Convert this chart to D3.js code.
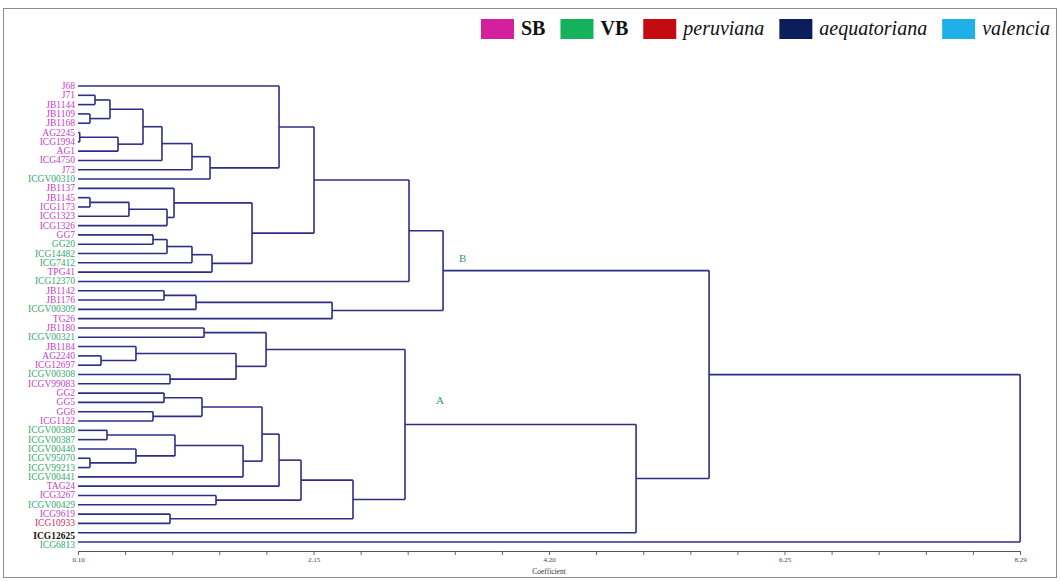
<!DOCTYPE html>
<html><head><meta charset="utf-8">
<script src="https://cdn.jsdelivr.net/npm/d3@7"></script>
<style>
html,body{margin:0;padding:0;background:#fff;}
svg{display:block;}
</style></head>
<body>
<svg id="chart" width="1060" height="581"></svg>
<script>
// ---------- DATA ----------
const leafNames = ["J68","J71","JB1144","JB1109","JB1168","AG2245","ICG1994","AG1","ICG4750","J73",
  "ICGV00310","JB1137","JB1145","ICG1173","ICG1323","ICG1326","GG7","GG20","ICG14482","ICG7412",
  "TPG41","ICG12370","JB1142","JB1176","ICGV00309","TG26","JB1180","ICGV00321","JB1184","AG2240",
  "ICG12697","ICGV00308","ICGV99083","GG2","GG5","GG6","ICG1122","ICGV00380","ICGV00387","ICGV00440",
  "ICGV95070","ICGV99213","ICGV00441","TAG24","ICG3267","ICGV00429","ICG9619","ICG10933","ICG12625","ICG6813"];
const leafGroups = ["SB","SB","SB","SB","SB","SB","SB","SB","SB","SB",
  "VB","SB","SB","SB","SB","SB","SB","VB","VB","VB",
  "SB","VB","SB","SB","VB","SB","SB","VB","SB","SB",
  "SB","VB","SB","SB","SB","SB","SB","VB","VB","VB",
  "VB","VB","VB","SB","SB","VB","SB","peruviana","aequatoriana","VB"];
// merges: negative = leaf number (1-based), positive = earlier merge number (1-based)
const mergePairs = [
  [-2,-3],[-4,-5],[1,2],[-6,-7],[4,-8],[3,5],[6,-9],[7,-10],[8,-11],[-1,9],
  [-13,-14],[11,-15],[12,-16],[-12,13],[-17,-18],[15,-19],[16,-20],[17,-21],[14,18],[10,19],
  [20,-22],[-23,-24],[22,-25],[23,-26],[21,24],[-27,-28],[-30,-31],[-29,27],[-32,-33],[28,29],
  [26,30],[-34,-35],[-36,-37],[32,33],[-38,-39],[-41,-42],[-40,36],[35,37],[38,-43],[34,39],
  [40,-44],[-45,-46],[41,42],[-47,-48],[43,44],[31,45],[46,-49],[25,47],[48,-50]];
const mergeHeights = [
  0.248,0.204,0.378,0.115,0.448,0.665,0.830,1.091,1.248,1.848,
  0.204,0.543,0.874,0.935,0.752,0.874,1.091,1.265,1.613,2.152,
  2.978,0.848,1.126,2.309,3.274,1.196,0.300,0.604,0.900,1.474,
  1.735,0.848,0.752,1.178,0.352,0.204,0.604,0.943,1.535,1.700,
  1.848,1.300,2.039,0.900,2.491,2.943,4.952,5.587,8.291];
const clusterLabels = [{merge:46, text:"A"},{merge:25, text:"B"}];
const axisMin = 0.10, axisMax = 8.29;
const tickLabels = ["0.10","2.15","4.20","6.25","8.29"];
const legendItems = [
  {key:"SB", label:"SB", bold:true},
  {key:"VB", label:"VB", bold:true},
  {key:"peruviana", label:"peruviana", bold:false},
  {key:"aequatoriana", label:"aequatoriana", bold:false},
  {key:"valencia", label:"valencia", bold:false}];

// ---------- STYLE ----------
const swatchColor = {SB:"#d4209f", VB:"#13b25b", peruviana:"#c50b12", aequatoriana:"#0b1d5a", valencia:"#1fb0ea"};
const labelColor = {SB:"#c63cc6", VB:"#33a86e", peruviana:"#c8305a", aequatoriana:"#111111", valencia:"#1fb0ea"};
const lineColor = "#2e2e86";
const serif = "'Liberation Serif','DejaVu Serif',serif";

const svg = d3.select("#chart");
svg.append("rect").attr("x",3.5).attr("y",8.5).attr("width",1053).attr("height",569)
  .attr("fill","none").attr("stroke","#8c8c8c").attr("stroke-width",1);

// ---------- TREE ----------
const leafNodes = leafNames.map((n,i)=>({name:n, group:leafGroups[i], height:axisMin, index:i}));
const mergeNodes = [];
mergePairs.forEach((p,i)=>{
  const kids = p.map(v => v < 0 ? leafNodes[-v-1] : mergeNodes[v-1]);
  mergeNodes.push({name:"m"+(i+1), height:mergeHeights[i], children:kids, id:i+1});
});
const root = d3.hierarchy(mergeNodes[mergeNodes.length-1]);

const x = d3.scaleLinear().domain([axisMin, axisMax]).range([78, 1020]);
const y = d3.scalePoint().domain(leafNames).range([86, 542]);

root.eachAfter(d=>{
  if(!d.children){ d.py = y(d.data.name); }
  else { d.py = d3.mean(d.children, c=>c.py); }
  d.px = x(d.data.height);
});

const g = svg.append("g").attr("fill","none").attr("stroke",lineColor).attr("stroke-width",1.6);
root.each(d=>{
  if(!d.children) return;
  const ys = d.children.map(c=>c.py);
  g.append("line").attr("x1",d.px).attr("x2",d.px).attr("y1",d3.min(ys)).attr("y2",d3.max(ys));
  d.children.forEach(c=>{
    g.append("line").attr("x1",c.px).attr("x2",d.px).attr("y1",c.py).attr("y2",c.py);
  });
});

// leaf labels
svg.append("g").selectAll("text").data(root.leaves()).join("text")
  .attr("x",75).attr("y",d=>d.py + (d.data.index>=48 ? 6 : 3))
  .attr("text-anchor","end")
  .attr("font-family",serif).attr("font-size",9.5)
  .attr("font-weight",d=>d.data.group==="aequatoriana"?"bold":"normal")
  .attr("fill",d=>labelColor[d.data.group])
  .text(d=>d.data.name);

// cluster labels
clusterLabels.forEach(c=>{
  const node = root.descendants().find(d=>d.data.id===c.merge);
  svg.append("text").attr("x",node.px+(c.text==="A"?31:16)).attr("y",node.py-(c.text==="A"?20:9))
    .attr("font-family",serif).attr("font-size",11).attr("fill","#2f9a6a").text(c.text);
});

// axis
const nMinor = 20;
const tickVals = d3.range(nMinor+1).map(i=>axisMin + i*(axisMax-axisMin)/nMinor);
const axis = d3.axisBottom(x).tickValues(tickVals).tickSize(4).tickSizeOuter(0)
  .tickFormat((d,i)=> i%5===0 ? tickLabels[i/5] : "");
const ax = svg.append("g").attr("transform","translate(0,551)").call(axis);
ax.select(".domain").attr("stroke","#555").attr("stroke-width",1.2);
ax.selectAll(".tick line").attr("stroke","#666");
ax.selectAll(".tick text").attr("font-family",serif).attr("font-size",7).attr("fill","#444").attr("dy","0.5em");
svg.append("text").attr("x",x((axisMin+axisMax)/2)).attr("y",574).attr("text-anchor","middle")
  .attr("font-family",serif).attr("font-size",7.5).attr("fill","#333").text("Coefficient");

// legend
const lg = svg.append("g");
let lx = 481;
legendItems.forEach(it=>{
  lg.append("rect").attr("x",lx).attr("y",19).attr("width",33).attr("height",20).attr("fill",swatchColor[it.key]);
  const t = lg.append("text").attr("x",lx+40).attr("y",35)
    .attr("font-family",serif).attr("font-size",20)
    .attr("font-weight",it.bold?"bold":"normal").attr("font-style",it.bold?"normal":"italic")
    .attr("fill","#111").text(it.label);
  lx += 40 + t.node().getComputedTextLength() + 15;
});
</script>
</body></html>
